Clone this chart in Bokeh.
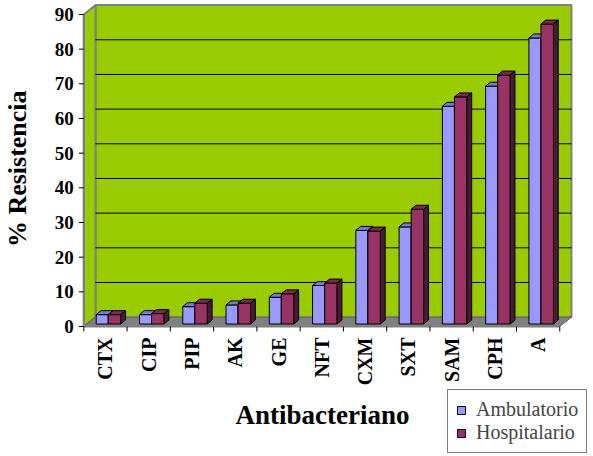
import math
from bokeh.plotting import figure
from bokeh.models import Range1d, Legend, LegendItem
from bokeh.embed import file_html
from bokeh.resources import INLINE

# ---- data ----
categories = ["CTX", "CIP", "PIP", "AK", "GE", "NFT", "CXM", "SXT", "SAM", "CPH", "A"]
ambulatorio = [2.7, 2.7, 5.0, 5.5, 7.7, 11.1, 27.0, 28.0, 62.8, 68.6, 82.5]
hospitalario = [2.7, 3.0, 6.0, 6.0, 8.7, 11.8, 26.8, 33.1, 65.5, 71.8, 86.5]
y_ticks = [0, 10, 20, 30, 40, 50, 60, 70, 80, 90]
series_names = ["Ambulatorio", "Hospitalario"]
x_title = "Antibacteriano"
y_title = "% Resistencia"

# ---- geometry / style ----
W, H = 593, 456
X0_PX, Y0_PX = 83.3, 326.0        # pixel position of data origin
PX_PER_X, PX_PER_Y = 43.27, 3.467  # pixels per category / per percent
PX = 1.0 / PX_PER_X
PY = 1.0 / PX_PER_Y

GREEN = "#99CC00"
WALL = "#808080"
AMB = ("#9999FF", "#7A7AD0", "#4C4C80")
HOSP = ("#993366", "#7A2952", "#4C1933")
N = len(categories)
YMAX = y_ticks[-1]
DX, DY = 0.27, 2.7        # depth of the 3D box (data units)
BDX, BDY = 0.11, 1.15     # depth of each bar
BASE = 0.72               # bar base above front floor edge
AMB_X = (0.287, 0.566)
HOSP_X = (0.566, 0.855)
SERIF = "Liberation Serif"
SANS = "Liberation Sans"

p = figure(width=W, height=H, output_backend="svg", toolbar_location=None,
           x_range=Range1d(-X0_PX * PX, (W - X0_PX) * PX),
           y_range=Range1d(-(H - Y0_PX) * PY, Y0_PX * PY),
           x_axis_location=None, y_axis_location=None,
           min_border=0)
p.outline_line_color = None
p.xgrid.visible = False
p.ygrid.visible = False
p.background_fill_color = "white"
p.border_fill_color = "white"

# walls and floor
p.quad(left=DX, right=N + DX, bottom=DY, top=YMAX + DY, fill_color=GREEN,
       line_color=WALL, line_width=2)
p.patch([0, 0, DX, DX], [0, YMAX, YMAX + DY, DY], fill_color=GREEN,
        line_color=WALL, line_width=2)
p.patch([0, N, N + DX, DX], [0, 0, DY, DY], fill_color=WALL,
        line_color="#606060", line_width=1)

# gridlines on the back wall
gl = [v + DY for v in y_ticks[1:-1]]
p.segment(x0=[DX] * len(gl), y0=gl, x1=[N + DX] * len(gl), y1=gl,
          line_color="black", line_width=1)


def draw_bars(values, xs, colors):
    left = [i + xs[0] for i in range(N)]
    right = [i + xs[1] for i in range(N)]
    top = [BASE + v for v in values]
    r = p.quad(left=left, right=right, bottom=[BASE] * N, top=top,
               fill_color=colors[0], line_color="black", line_width=1)
    p.patches(xs=[[l, rr, rr + BDX, l + BDX] for l, rr in zip(left, right)],
              ys=[[t, t, t + BDY, t + BDY] for t in top],
              fill_color=colors[1], line_color="black", line_width=1)
    p.patches(xs=[[rr, rr + BDX, rr + BDX, rr] for rr in right],
              ys=[[BASE, BASE + BDY, t + BDY, t] for t in top],
              fill_color=colors[2], line_color="black", line_width=1)
    return r


r_amb = draw_bars(ambulatorio, AMB_X, AMB)
r_hosp = draw_bars(hospitalario, HOSP_X, HOSP)

# ---- y axis (left wall front edge) ----
p.segment(x0=[0], y0=[0], x1=[0], y1=[YMAX], line_color=WALL, line_width=2)
p.segment(x0=[-5 * PX] * len(y_ticks), y0=y_ticks, x1=[0] * len(y_ticks), y1=y_ticks,
          line_color="black", line_width=1)
p.text(x=[-10 * PX] * len(y_ticks), y=y_ticks, text=[str(t) for t in y_ticks],
       text_align="right", text_baseline="middle", text_font=SANS,
       text_font_style="bold", text_font_size="19px", text_color="black")
p.text(x=[(16.5 - X0_PX) * PX], y=[YMAX / 2 + 0.5], text=[y_title], angle=math.pi / 2,
       text_align="center", text_baseline="middle", text_font=SERIF,
       text_font_style="bold", text_font_size="26px", text_color="black")

# ---- x axis (floor front edge) ----
p.segment(x0=[0], y0=[0], x1=[N], y1=[0], line_color=WALL, line_width=2)
bounds = list(range(N + 1))
p.segment(x0=bounds, y0=[0] * len(bounds), x1=bounds, y1=[-5 * PY] * len(bounds),
          line_color="black", line_width=1)
p.text(x=[i + 0.5 for i in range(N)], y=[-11 * PY] * N, text=categories,
       angle=math.pi / 2, text_align="right", text_baseline="middle",
       text_font=SERIF, text_font_style="bold", text_font_size="20px",
       text_color="black")
p.text(x=[(322 - X0_PX) * PX], y=[-(414 - Y0_PX) * PY], text=[x_title],
       text_align="center", text_baseline="middle", text_font=SERIF,
       text_font_style="bold", text_font_size="27px", text_color="black")

# ---- legend ----
legend = Legend(items=[LegendItem(label=series_names[0], renderers=[r_amb]),
                       LegendItem(label=series_names[1], renderers=[r_hosp])],
                location=(447, 3), orientation="vertical",
                border_line_color="black", border_line_width=1,
                background_fill_color="white", background_fill_alpha=1,
                glyph_width=10, glyph_height=10, label_standoff=10,
                label_text_font=SERIF, label_text_font_size="20px",
                label_height=21, padding=8, spacing=0, margin=0)
p.add_layout(legend, "center")

open("out.html", "w").write(file_html(p, INLINE))
